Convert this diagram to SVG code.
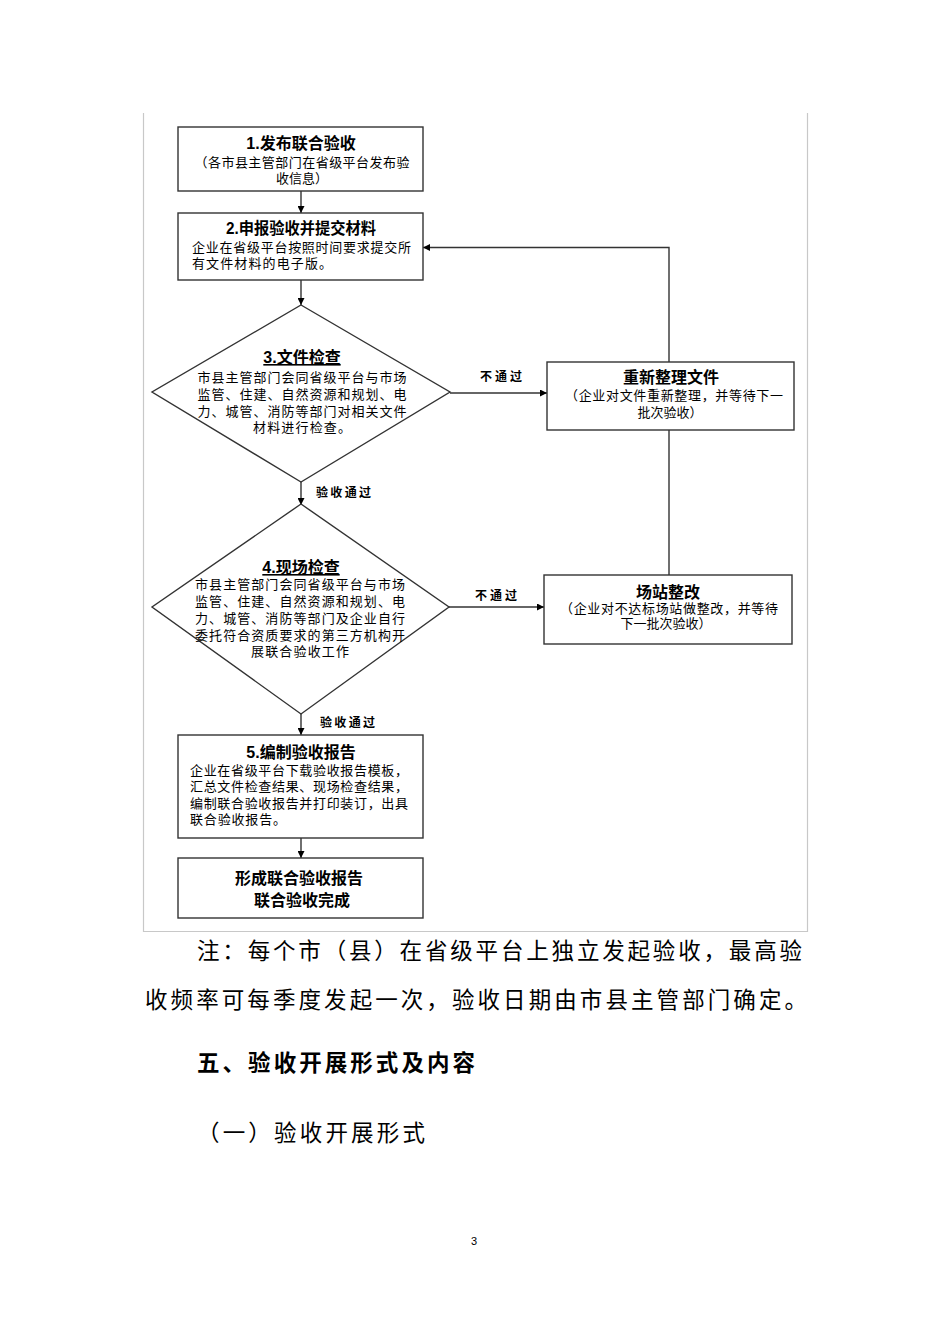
<svg xmlns="http://www.w3.org/2000/svg" width="950" height="1344" viewBox="0 0 950 1344">
<defs>
<marker id="ah" viewBox="0 0 10 10" refX="10" refY="5" markerWidth="7" markerHeight="7" orient="auto" markerUnits="userSpaceOnUse">
<path d="M0,0 L10,5 L0,10 z" fill="#000"/>
</marker>
<style>
.box{fill:#fff;stroke:#333;stroke-width:1.4}
.t{font-family:"Liberation Sans","Noto Sans CJK SC",sans-serif;fill:#000}
.h{font-size:16px;font-weight:bold}
.b{font-size:13px}
.lb{font-size:12px;font-weight:bold}
.c{text-anchor:middle}
.conn{fill:none;stroke:#333;stroke-width:1.4}
.body{font-family:"Liberation Serif","Noto Sans CJK SC",serif;font-size:22.5px;fill:#000}
</style>
</defs>
<rect width="950" height="1344" fill="#fff"/>
<g id="frame" stroke="#c8c8c8" stroke-width="1.2" fill="none">
<path d="M143.5,113 V931.5 H807.5 V113"/>
</g>
<g id="connectors">
<line class="conn" x1="301" y1="191" x2="301" y2="213" marker-end="url(#ah)"/>
<line class="conn" x1="301" y1="280" x2="301" y2="305" marker-end="url(#ah)"/>
<line class="conn" x1="301" y1="482" x2="301" y2="505" marker-end="url(#ah)"/>
<line class="conn" x1="301" y1="714" x2="301" y2="735" marker-end="url(#ah)"/>
<line class="conn" x1="301" y1="838" x2="301" y2="858" marker-end="url(#ah)"/>
<line class="conn" x1="450" y1="393" x2="547" y2="393" marker-end="url(#ah)"/>
<line class="conn" x1="449" y1="607" x2="544" y2="607" marker-end="url(#ah)"/>
<path class="conn" d="M669,575 V247.5 H423" marker-end="url(#ah)"/>
<text class="t lb" x="316" y="497" textLength="55">验收通过</text>
<text class="t lb" x="320" y="727" textLength="55">验收通过</text>
<text class="t lb" x="480" y="381" textLength="42">不通过</text>
<text class="t lb" x="475" y="600" textLength="42">不通过</text>
</g>
<g id="n1">
<rect class="box" x="178" y="127" width="245" height="64"/>
<text class="t h c" x="301" y="149">1.发布联合验收</text>
<text class="t b c" x="302" y="167" textLength="215">（各市县主管部门在省级平台发布验</text>
<text class="t b c" x="302" y="183">收信息）</text>
</g>
<g id="n2">
<rect class="box" x="178" y="213" width="245" height="67"/>
<text class="t h c" x="301" y="234" textLength="150" lengthAdjust="spacingAndGlyphs">2.申报验收并提交材料</text>
<text class="t b" x="192" y="252" textLength="219">企业在省级平台按照时间要求提交所</text>
<text class="t b" x="192" y="268" textLength="140">有文件材料的电子版。</text>
</g>
<g id="n3">
<polygon class="box" points="301,305 450,392 301,482 152,392"/>
<text class="t h c" x="302" y="363" text-decoration="underline">3.文件检查</text>
<text class="t b c" x="302" y="382" textLength="209">市县主管部门会同省级平台与市场</text>
<text class="t b c" x="302" y="399" textLength="209">监管、住建、自然资源和规划、电</text>
<text class="t b c" x="302" y="416" textLength="209">力、城管、消防等部门对相关文件</text>
<text class="t b c" x="302" y="432" textLength="98">材料进行检查。</text>
</g>
<g id="n4">
<polygon class="box" points="301,504 449,607 301,714 152,607"/>
<text class="t h c" x="301" y="573" text-decoration="underline">4.现场检查</text>
<text class="t b c" x="300" y="589" textLength="210">市县主管部门会同省级平台与市场</text>
<text class="t b c" x="300" y="606" textLength="210">监管、住建、自然资源和规划、电</text>
<text class="t b c" x="300" y="623" textLength="210">力、城管、消防等部门及企业自行</text>
<text class="t b c" x="300" y="640" textLength="210">委托符合资质要求的第三方机构开</text>
<text class="t b c" x="300" y="656" textLength="98">展联合验收工作</text>
</g>
<g id="n5">
<rect class="box" x="178" y="735" width="245" height="103"/>
<text class="t h c" x="301" y="758">5.编制验收报告</text>
<text class="t b" x="190" y="775" textLength="218">企业在省级平台下载验收报告模板，</text>
<text class="t b" x="190" y="791" textLength="218">汇总文件检查结果、现场检查结果，</text>
<text class="t b" x="190" y="808" textLength="218">编制联合验收报告并打印装订，出具</text>
<text class="t b" x="190" y="824" textLength="96">联合验收报告。</text>
</g>
<g id="n6">
<rect class="box" x="178" y="858" width="245" height="60"/>
<text class="t h c" x="299" y="884">形成联合验收报告</text>
<text class="t h c" x="302" y="906">联合验收完成</text>
</g>
<g id="n7">
<rect class="box" x="547" y="362" width="247" height="68"/>
<text class="t h c" x="671" y="383">重新整理文件</text>
<text class="t b c" x="674" y="400" textLength="218">（企业对文件重新整理，并等待下一</text>
<text class="t b c" x="670" y="417">批次验收）</text>
</g>
<g id="n8">
<rect class="box" x="544" y="575" width="248" height="69"/>
<text class="t h c" x="668" y="598">场站整改</text>
<text class="t b c" x="669" y="613" textLength="218">（企业对不达标场站做整改，并等待</text>
<text class="t b c" x="666" y="628">下一批次验收）</text>
</g>
<g id="page-text">
<text class="body" x="197" y="959" textLength="605">注：每个市（县）在省级平台上独立发起验收，最高验</text>
<text class="body" x="145" y="1008" textLength="662">收频率可每季度发起一次，验收日期由市县主管部门确定。</text>
<text class="body" x="197" y="1071" textLength="278" font-weight="bold" style="font-family:'Liberation Sans','Noto Sans CJK SC',sans-serif">五、验收开展形式及内容</text>
<text class="body" x="197" y="1141" textLength="228">（一）验收开展形式</text>
<text x="474" y="1245" font-family="Liberation Sans, sans-serif" font-size="11" text-anchor="middle" fill="#000">3</text>
</g>
</svg>
